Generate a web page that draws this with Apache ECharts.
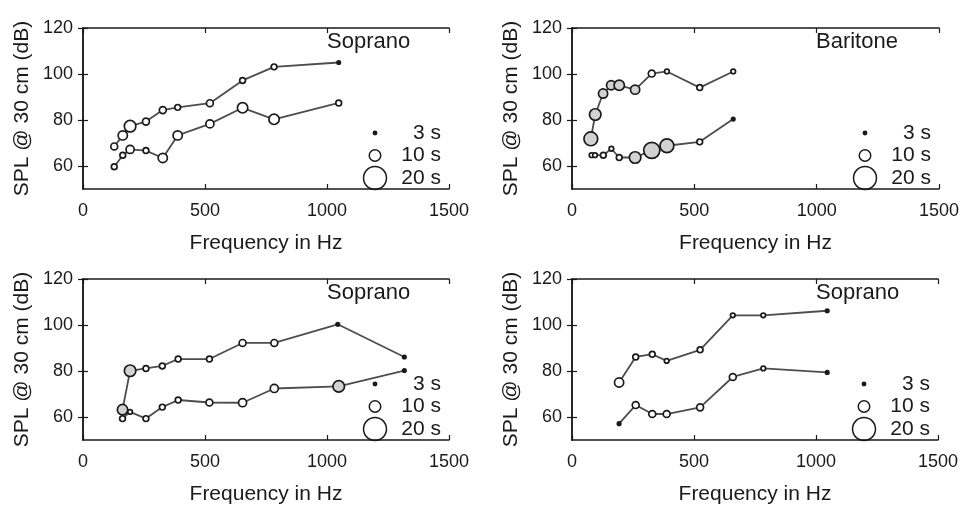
<!DOCTYPE html>
<html>
<head>
<meta charset="utf-8">
<script src="https://cdn.jsdelivr.net/npm/echarts@6/dist/echarts.min.js"></script>
<style>
  html, body { margin: 0; padding: 0; background: #fff; }
  #chart { width: 964px; height: 506px; }
</style>
</head>
<body>
<div id="chart"></div>
<script>
// tick labels
const xTicks = [0, 500, 1000, 1500];
const yTicks = [60, 80, 100, 120];
const legendDur = [3, 10, 20];
const panelNames = ['Soprano', 'Baritone', 'Soprano', 'Soprano'];

// top left, soprano
const tlFreqHi = [128, 163, 193, 258, 327, 388, 520, 654, 783, 1048];
const tlSplHi  = [68.5, 73.3, 77.3, 79.3, 84.3, 85.5, 87.3, 97.2, 103.1, 105];
const tlDurHi  = [6, 8, 10, 6, 6, 5, 6, 5, 5, 3];
const tlGrayHi = [0, 0, 0, 0, 0, 0, 0, 0, 0, 0];
const tlFreqLo = [128, 163, 193, 258, 327, 388, 520, 654, 783, 1048];
const tlSplLo  = [59.7, 64.7, 67.2, 66.7, 63.5, 73.3, 78.3, 85.3, 80.3, 87.4];
const tlDurLo  = [5, 5, 7, 5, 8, 8, 7, 9, 9, 5];
const tlGrayLo = [0, 0, 0, 0, 0, 0, 0, 0, 0, 0];

// top right, baritone
const trFreqHi = [77, 95, 127, 160, 193, 258, 326, 388, 522, 659];
const trSplHi  = [71.8, 82.4, 91.5, 95.1, 95.1, 93.2, 100.2, 101.1, 94.1, 101.1];
const trDurHi  = [12, 10, 8, 8, 9, 8, 6, 4, 5, 4];
const trGrayHi = [1, 1, 1, 1, 1, 1, 0, 0, 0, 0];
const trFreqLo = [80, 94, 128, 161, 193, 258, 326, 388, 522, 659];
const trSplLo  = [64.7, 64.7, 64.7, 67.5, 63.7, 63.7, 66.8, 68.8, 70.5, 80.4];
const trDurLo  = [4, 4, 5, 4, 5, 10, 14, 12, 5, 3];
const trGrayLo = [0, 0, 0, 0, 0, 1, 1, 1, 0, 0];

// bottom left, soprano
const blFreqHi = [162, 193, 258, 325, 390, 518, 654, 784, 1044, 1317];
const blSplHi  = [63.2, 80.1, 81.1, 82.2, 85.2, 85.2, 92.2, 92.2, 100.3, 86.1];
const blDurHi  = [9, 10, 5, 5, 5, 5, 6, 6, 3, 3];
const blGrayHi = [1, 1, 0, 0, 0, 0, 0, 0, 0, 0];
const blFreqLo = [162, 193, 258, 325, 390, 518, 654, 784, 1048, 1317];
const blSplLo  = [59.3, 62.2, 59.3, 64.3, 67.4, 66.3, 66.2, 72.4, 73.3, 80.2];
const blDurLo  = [5, 4, 5, 5, 5, 6, 7, 7, 10, 3];
const blGrayLo = [0, 0, 0, 0, 0, 0, 0, 0, 1, 0];

// bottom right, soprano
const brFreqHi = [193, 261, 329, 388, 525, 659, 784, 1046];
const brSplHi  = [75, 86.1, 87.3, 84.4, 89.2, 104.2, 104.2, 106.2];
const brDurHi  = [8, 5, 5, 4, 5, 4, 4, 3];
const brGrayHi = [0, 0, 0, 0, 0, 0, 0, 0];
const brFreqLo = [193, 261, 329, 388, 525, 659, 784, 1046];
const brSplLo  = [57.1, 65.2, 61.3, 61.3, 64.2, 77.4, 81.1, 79.4];
const brDurLo  = [3, 6, 6, 6, 6, 6, 4, 3];
const brGrayLo = [0, 0, 0, 0, 0, 0, 0, 0];

const panels = [
  [[tlFreqHi, tlSplHi, tlDurHi, tlGrayHi], [tlFreqLo, tlSplLo, tlDurLo, tlGrayLo]],
  [[trFreqHi, trSplHi, trDurHi, trGrayHi], [trFreqLo, trSplLo, trDurLo, trGrayLo]],
  [[blFreqHi, blSplHi, blDurHi, blGrayHi], [blFreqLo, blSplLo, blDurLo, blGrayLo]],
  [[brFreqHi, brSplHi, brDurHi, brGrayHi], [brFreqLo, brSplLo, brDurLo, brGrayLo]]
];

const grids = [
  { left: 83, top: 28, width: 366, height: 161 },
  { left: 572, top: 28, width: 367, height: 161 },
  { left: 83, top: 279, width: 366, height: 162 },
  { left: 572, top: 279, width: 366, height: 162 }
];

const FONT = 'Liberation Sans';
const INK = '#1a1a1a';
const sizeOf = d => d * 1.15;

let myChart = echarts.init(document.getElementById('chart'));

let xAxes = [], yAxes = [], series = [], graphics = [];

grids.forEach((g, i) => {
  let tick = { show: true, inside: true, length: 5, customValues: xTicks, lineStyle: { color: INK, width: 1.2 } };
  let line = { show: true, lineStyle: { color: INK, width: 1.5 } };
  xAxes.push({
    gridIndex: i, type: 'value', min: 0, max: 1500, position: 'bottom',
    name: 'Frequency in Hz', nameLocation: 'middle', nameGap: 44,
    nameTextStyle: { fontFamily: FONT, fontSize: 21, color: INK },
    axisLine: line, axisTick: tick,
    axisLabel: { customValues: xTicks, formatter: v => String(v), margin: 13, fontFamily: FONT, fontSize: 18, color: INK },
    splitLine: { show: false }
  });
  xAxes.push({
    gridIndex: i, type: 'value', min: 0, max: 1500, position: 'top',
    axisLine: line, axisTick: tick, axisLabel: { show: false }, splitLine: { show: false }
  });
  let ytick = Object.assign({}, tick, { customValues: yTicks });
  yAxes.push({
    gridIndex: i, type: 'value', min: 50, max: 120, position: 'left',
    name: 'SPL @ 30 cm (dB)', nameLocation: 'middle', nameGap: 50,
    nameTextStyle: { fontFamily: FONT, fontSize: 21, color: INK },
    axisLine: line, axisTick: ytick,
    axisLabel: { customValues: yTicks, formatter: v => String(v), margin: 10, fontFamily: FONT, fontSize: 18, color: INK },
    splitLine: { show: false }
  });
  yAxes.push({
    gridIndex: i, type: 'value', min: 50, max: 120, position: 'right',
    axisLine: line, axisTick: ytick, axisLabel: { show: false }, splitLine: { show: false }
  });

  panels[i].forEach(s => {
    let data = s[0].map((f, k) => ({
      value: [f, s[1][k], s[2][k]],
      itemStyle: { color: s[2][k] <= 3 ? INK : (s[3][k] ? '#d2d2d2' : '#ffffff') }
    }));
    series.push({
      type: 'line',
      xAxisIndex: i * 2,
      yAxisIndex: i * 2,
      data: data,
      symbol: 'circle',
      symbolSize: v => sizeOf(v[2]),
      lineStyle: { color: '#4d4d4d', width: 1.8 },
      itemStyle: { borderColor: INK, borderWidth: 1.7 },
      emphasis: { disabled: true }
    });
  });

  // panel name
  graphics.push({
    type: 'text', left: g.left + 244, top: g.top + 3,
    style: { text: panelNames[i], fontFamily: FONT, fontSize: 22, fill: INK }
  });

  // duration legend
  let right = g.left + g.width;
  legendDur.forEach((d, k) => {
    let cy = g.top + 105 + k * 22.5;
    graphics.push({
      type: 'circle',
      shape: { cx: right - 74, cy: cy, r: sizeOf(d) / 2 },
      style: { fill: d === 3 ? INK : '#fff', stroke: INK, lineWidth: 1.5 }
    });
    graphics.push({
      type: 'text', x: right - 8, y: cy,
      style: { text: d + ' s', fontFamily: FONT, fontSize: 21, fill: INK, textAlign: 'right', textVerticalAlign: 'middle' }
    });
  });
});

let option = {
  animation: false,
  grid: grids,
  xAxis: xAxes,
  yAxis: yAxes,
  series: series,
  graphic: graphics
};

myChart.setOption(option);
</script>
</body>
</html>
